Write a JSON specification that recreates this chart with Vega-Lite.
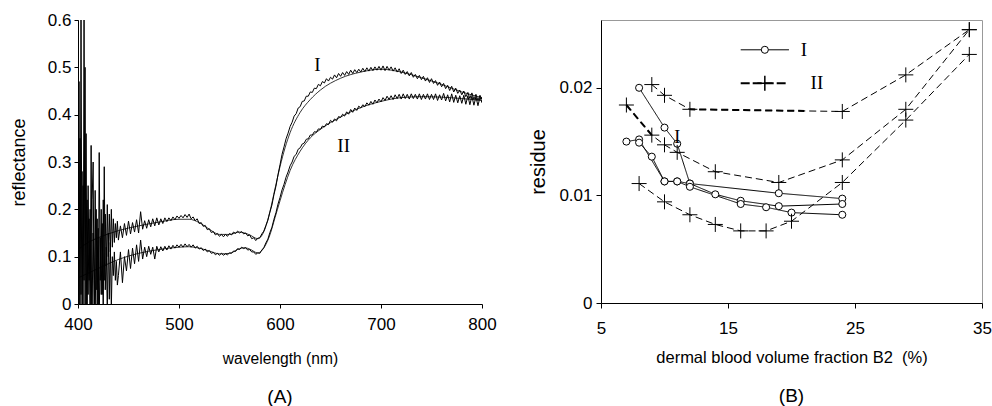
{
 "$schema": "https://vega.github.io/schema/vega-lite/v6.json",
 "background": "white",
 "padding": {"left": 10, "top": 11, "right": 0, "bottom": 0},
 "spacing": 31,
 "config": {
  "view": {"stroke": null},
  "axis": {"domainColor": "black", "tickColor": "black", "labelColor": "black", "titleColor": "black", "labelFont": "Liberation Sans", "titleFont": "Liberation Sans", "labelFontSize": 17, "titleFontSize": 16, "titleFontWeight": "normal", "grid": false, "tickSize": 4, "labelFlush": false, "labelOverlap": false, "labelBound": false, "labelSeparation": 0, "labelPadding": 4, "titlePadding": 10},
  "title": {"font": "Liberation Sans", "fontSize": 19, "fontWeight": "normal", "color": "black"}
 },
 "datasets": {
  "spec": [
   {"w":400,"a":0.60,"b":0.00},{"w":401,"a":-0.05,"b":0.47},{"w":402,"a":0.35,"b":-0.10},{"w":403,"a":0.02,"b":0.60},{"w":404,"a":0.28,"b":-0.05},{"w":405,"a":-0.10,"b":0.25},{"w":406,"a":0.60,"b":0.05},{"w":407,"a":0.00,"b":0.50},{"w":408,"a":0.36,"b":-0.08},{"w":409,"a":-0.05,"b":0.22},
   {"w":410,"a":0.25,"b":0.02},{"w":411,"a":0.05,"b":0.18},{"w":412,"a":0.20,"b":-0.05},{"w":413,"a":-0.08,"b":0.335},{"w":414,"a":0.22,"b":0.00},{"w":415,"a":0.30,"b":0.15},{"w":416,"a":-0.04,"b":0.05},{"w":417,"a":0.24,"b":-0.06},{"w":418,"a":0.03,"b":0.20},{"w":419,"a":0.18,"b":0.00},
   {"w":420,"a":-0.05,"b":0.16},{"w":421,"a":0.32,"b":-0.04},{"w":422,"a":0.05,"b":0.14},{"w":423,"a":0.20,"b":0.02},{"w":424,"a":0.02,"b":0.17},{"w":425,"a":0.22,"b":-0.03},{"w":426,"a":0.05,"b":0.29},{"w":427,"a":0.19,"b":0.03},{"w":428,"a":0.08,"b":0.12},{"w":429,"a":0.21,"b":-0.02},
   {"w":430,"a":0.10,"b":0.15},{"w":431,"a":0.19,"b":0.01},{"w":432,"a":0.11,"b":0.13},{"w":433,"a":0.20,"b":-0.01},{"w":434,"a":0.12,"b":0.10},{"w":435,"a":0.18,"b":0.06},{"w":436,"a":0.13,"b":0.11},{"w":437,"a":0.17,"b":0.05},{"w":438,"a":0.14,"b":0.09},{"w":439,"a":0.175,"b":0.04},
   {"w":440,"a":0.135,"b":0.06},{"w":442,"a":0.165,"b":0.11},{"w":444,"a":0.14,"b":0.045},{"w":446,"a":0.17,"b":0.10},{"w":448,"a":0.145,"b":0.07},{"w":450,"a":0.175,"b":0.115},{"w":452,"a":0.148,"b":0.075},{"w":454,"a":0.172,"b":0.118},{"w":456,"a":0.152,"b":0.085},{"w":458,"a":0.178,"b":0.125},
   {"w":460,"a":0.150,"b":0.09},{"w":462,"a":0.195,"b":0.135},{"w":464,"a":0.158,"b":0.095},{"w":466,"a":0.176,"b":0.12},{"w":468,"a":0.16,"b":0.10},{"w":470,"a":0.178,"b":0.122},{"w":472,"a":0.163,"b":0.105},{"w":474,"a":0.18,"b":0.12},{"w":476,"a":0.165,"b":0.095},{"w":478,"a":0.182,"b":0.122},
   {"w":480,"a":0.167,"b":0.11},{"w":482,"a":0.180,"b":0.121},{"w":484,"a":0.170,"b":0.112},{"w":486,"a":0.182,"b":0.122},{"w":488,"a":0.174,"b":0.114},{"w":490,"a":0.182,"b":0.123},{"w":492,"a":0.176,"b":0.116},{"w":494,"a":0.184,"b":0.124},{"w":496,"a":0.178,"b":0.118},{"w":498,"a":0.186,"b":0.125},
   {"w":500,"a":0.181,"b":0.12},{"w":502,"a":0.187,"b":0.126},{"w":504,"a":0.182,"b":0.12},{"w":506,"a":0.189,"b":0.127},{"w":508,"a":0.183,"b":0.121},{"w":510,"a":0.190,"b":0.126},{"w":512,"a":0.180,"b":0.12},{"w":514,"a":0.184,"b":0.125},{"w":516,"a":0.176,"b":0.118},{"w":518,"a":0.180,"b":0.122},
   {"w":520,"a":0.170,"b":0.116},{"w":522,"a":0.172,"b":0.119},{"w":524,"a":0.164,"b":0.113},{"w":526,"a":0.166,"b":0.116},{"w":528,"a":0.157,"b":0.110},{"w":530,"a":0.159,"b":0.113},{"w":532,"a":0.151,"b":0.107},{"w":534,"a":0.153,"b":0.109},{"w":536,"a":0.146,"b":0.104},{"w":538,"a":0.149,"b":0.107},
   {"w":540,"a":0.143,"b":0.103},{"w":542,"a":0.147,"b":0.107},{"w":544,"a":0.142,"b":0.103},{"w":546,"a":0.147,"b":0.106},{"w":548,"a":0.143,"b":0.104},{"w":550,"a":0.149,"b":0.108},{"w":552,"a":0.146,"b":0.107},{"w":554,"a":0.152,"b":0.112},{"w":556,"a":0.149,"b":0.111},{"w":558,"a":0.154,"b":0.117},
   {"w":560,"a":0.150,"b":0.115},{"w":562,"a":0.153,"b":0.120},{"w":564,"a":0.148,"b":0.117},{"w":566,"a":0.150,"b":0.119},{"w":568,"a":0.144,"b":0.114},{"w":570,"a":0.146,"b":0.115},{"w":572,"a":0.138,"b":0.110},{"w":574,"a":0.140,"b":0.110},{"w":576,"a":0.134,"b":0.105},{"w":578,"a":0.139,"b":0.108},
   {"w":580,"a":0.140,"b":0.107},{"w":582,"a":0.148,"b":0.114},{"w":584,"a":0.154,"b":0.119},{"w":586,"a":0.166,"b":0.129},{"w":588,"a":0.177,"b":0.137},{"w":590,"a":0.194,"b":0.151},{"w":592,"a":0.209,"b":0.162},{"w":594,"a":0.231,"b":0.179},{"w":596,"a":0.249,"b":0.193},{"w":598,"a":0.273,"b":0.211},
   {"w":600,"a":0.294,"b":0.225},{"w":602,"a":0.316,"b":0.241},{"w":604,"a":0.332,"b":0.253},{"w":606,"a":0.349,"b":0.268},{"w":608,"a":0.361,"b":0.279},{"w":610,"a":0.375,"b":0.292},{"w":612,"a":0.384,"b":0.300},{"w":614,"a":0.397,"b":0.312},{"w":616,"a":0.402,"b":0.316},{"w":618,"a":0.414,"b":0.327},
   {"w":620,"a":0.417,"b":0.330},{"w":622,"a":0.428,"b":0.338},{"w":624,"a":0.429,"b":0.340},{"w":626,"a":0.439,"b":0.348},{"w":628,"a":0.439,"b":0.349},{"w":630,"a":0.448,"b":0.357},{"w":632,"a":0.447,"b":0.357},{"w":634,"a":0.456,"b":0.364},{"w":636,"a":0.455,"b":0.363},{"w":638,"a":0.464,"b":0.370},
   {"w":640,"a":0.461,"b":0.369},{"w":642,"a":0.470,"b":0.376},{"w":644,"a":0.467,"b":0.374},{"w":646,"a":0.476,"b":0.381},{"w":648,"a":0.471,"b":0.379},{"w":650,"a":0.479,"b":0.388},{"w":652,"a":0.475,"b":0.384},{"w":654,"a":0.484,"b":0.391},{"w":656,"a":0.478,"b":0.387},{"w":658,"a":0.487,"b":0.396},
   {"w":660,"a":0.481,"b":0.394},{"w":662,"a":0.489,"b":0.401},{"w":664,"a":0.483,"b":0.397},{"w":666,"a":0.491,"b":0.406},{"w":668,"a":0.485,"b":0.401},{"w":670,"a":0.494,"b":0.411},{"w":672,"a":0.487,"b":0.405},{"w":674,"a":0.495,"b":0.414},{"w":676,"a":0.489,"b":0.409},{"w":678,"a":0.496,"b":0.418},
   {"w":680,"a":0.490,"b":0.414},{"w":682,"a":0.498,"b":0.421},{"w":684,"a":0.491,"b":0.417},{"w":686,"a":0.499,"b":0.425},{"w":688,"a":0.492,"b":0.420},{"w":690,"a":0.500,"b":0.428},{"w":692,"a":0.493,"b":0.422},{"w":694,"a":0.501,"b":0.431},{"w":696,"a":0.494,"b":0.425},{"w":698,"a":0.502,"b":0.433},
   {"w":700,"a":0.494,"b":0.427},{"w":702,"a":0.503,"b":0.436},{"w":704,"a":0.493,"b":0.430},{"w":706,"a":0.502,"b":0.439},{"w":708,"a":0.494,"b":0.432},{"w":710,"a":0.501,"b":0.440},{"w":712,"a":0.492,"b":0.432},{"w":714,"a":0.499,"b":0.442},{"w":716,"a":0.490,"b":0.434},{"w":718,"a":0.497,"b":0.443},
   {"w":720,"a":0.487,"b":0.433},{"w":722,"a":0.494,"b":0.444},{"w":724,"a":0.485,"b":0.434},{"w":726,"a":0.491,"b":0.443},{"w":728,"a":0.482,"b":0.433},{"w":730,"a":0.489,"b":0.444},{"w":732,"a":0.479,"b":0.434},{"w":734,"a":0.485,"b":0.443},{"w":736,"a":0.476,"b":0.433},{"w":738,"a":0.483,"b":0.444},
   {"w":740,"a":0.474,"b":0.432},{"w":742,"a":0.481,"b":0.443},{"w":744,"a":0.471,"b":0.433},{"w":746,"a":0.478,"b":0.444},{"w":748,"a":0.468,"b":0.432},{"w":750,"a":0.476,"b":0.443},{"w":752,"a":0.466,"b":0.432},{"w":754,"a":0.472,"b":0.444},{"w":756,"a":0.462,"b":0.430},{"w":758,"a":0.469,"b":0.442},
   {"w":760,"a":0.459,"b":0.431},{"w":762,"a":0.466,"b":0.445},{"w":764,"a":0.455,"b":0.429},{"w":766,"a":0.462,"b":0.442},{"w":768,"a":0.451,"b":0.427},{"w":770,"a":0.460,"b":0.444},{"w":772,"a":0.448,"b":0.426},{"w":774,"a":0.456,"b":0.441},{"w":776,"a":0.445,"b":0.425},{"w":778,"a":0.452,"b":0.440},
   {"w":780,"a":0.442,"b":0.424},{"w":782,"a":0.450,"b":0.441},{"w":784,"a":0.438,"b":0.422},{"w":786,"a":0.447,"b":0.440},{"w":788,"a":0.434,"b":0.421},{"w":790,"a":0.446,"b":0.439},{"w":792,"a":0.432,"b":0.420},{"w":794,"a":0.443,"b":0.438},{"w":796,"a":0.430,"b":0.419},{"w":798,"a":0.441,"b":0.437},
   {"w":800,"a":0.432,"b":0.425}
  ],
  "fit": [
   {"w":400,"a":0.115,"b":0.055},{"w":410,"a":0.13,"b":0.065},{"w":420,"a":0.14,"b":0.075},{"w":430,"a":0.148,"b":0.085},{"w":440,"a":0.155,"b":0.094},{"w":460,"a":0.165,"b":0.107},{"w":480,"a":0.173,"b":0.115},{"w":500,"a":0.179,"b":0.12},{"w":510,"a":0.179,"b":0.121},{"w":520,"a":0.172,"b":0.118},{"w":530,"a":0.158,"b":0.112},{"w":540,"a":0.147,"b":0.106},{"w":550,"a":0.147,"b":0.107},{"w":560,"a":0.152,"b":0.117},{"w":565,"a":0.150,"b":0.119},{"w":570,"a":0.146,"b":0.116},{"w":578,"a":0.138,"b":0.108},{"w":585,"a":0.158,"b":0.122},{"w":590,"a":0.195,"b":0.146},{"w":595,"a":0.243,"b":0.182},{"w":600,"a":0.29,"b":0.218},{"w":605,"a":0.33,"b":0.252},{"w":610,"a":0.362,"b":0.282},{"w":620,"a":0.405,"b":0.323},{"w":630,"a":0.432,"b":0.351},{"w":640,"a":0.452,"b":0.369},{"w":660,"a":0.477,"b":0.395},{"w":680,"a":0.49,"b":0.415},{"w":700,"a":0.496,"b":0.428},{"w":720,"a":0.49,"b":0.436},{"w":740,"a":0.478,"b":0.438},{"w":760,"a":0.464,"b":0.437},{"w":780,"a":0.448,"b":0.434},{"w":800,"a":0.436,"b":0.43}
  ],
  "res": [
   {"c":"C1","t":"I","x":8,"y":0.0200},{"c":"C1","t":"I","x":10,"y":0.0163},{"c":"C1","t":"I","x":11,"y":0.0148},{"c":"C1","t":"I","x":12,"y":0.0111},{"c":"C1","t":"I","x":19,"y":0.0102},{"c":"C1","t":"I","x":24,"y":0.0097},
   {"c":"C2","t":"I","x":7,"y":0.0150},{"c":"C2","t":"I","x":8,"y":0.0152},{"c":"C2","t":"I","x":10,"y":0.0113},{"c":"C2","t":"I","x":11,"y":0.0113},{"c":"C2","t":"I","x":12,"y":0.0111},{"c":"C2","t":"I","x":14,"y":0.0101},{"c":"C2","t":"I","x":16,"y":0.0095},{"c":"C2","t":"I","x":19,"y":0.0090},{"c":"C2","t":"I","x":24,"y":0.0092},
   {"c":"C3","t":"I","x":8,"y":0.0149},{"c":"C3","t":"I","x":9,"y":0.0136},{"c":"C3","t":"I","x":10,"y":0.0113},{"c":"C3","t":"I","x":11,"y":0.0113},{"c":"C3","t":"I","x":12,"y":0.0108},{"c":"C3","t":"I","x":16,"y":0.0092},{"c":"C3","t":"I","x":18,"y":0.0089},{"c":"C3","t":"I","x":20,"y":0.0084},{"c":"C3","t":"I","x":24,"y":0.0082},
   {"c":"D1","t":"II","x":9,"y":0.0203},{"c":"D1","t":"II","x":10,"y":0.0193},{"c":"D1","t":"II","x":12,"y":0.0180},{"c":"D1","t":"II","x":24,"y":0.0178},{"c":"D1","t":"II","x":29,"y":0.0212},{"c":"D1","t":"II","x":34,"y":0.0254},
   {"c":"D2","t":"II","x":7,"y":0.0184},{"c":"D2","t":"II","x":9,"y":0.0156},{"c":"D2","t":"II","x":10,"y":0.0147},{"c":"D2","t":"II","x":11,"y":0.0140},{"c":"D2","t":"II","x":14,"y":0.0122},{"c":"D2","t":"II","x":19,"y":0.0112},{"c":"D2","t":"II","x":24,"y":0.0133},{"c":"D2","t":"II","x":29,"y":0.0180},{"c":"D2","t":"II","x":34,"y":0.0254},
   {"c":"D3","t":"II","x":8,"y":0.0111},{"c":"D3","t":"II","x":10,"y":0.0094},{"c":"D3","t":"II","x":12,"y":0.0082},{"c":"D3","t":"II","x":14,"y":0.0073},{"c":"D3","t":"II","x":16,"y":0.0067},{"c":"D3","t":"II","x":18,"y":0.0067},{"c":"D3","t":"II","x":20,"y":0.0076},{"c":"D3","t":"II","x":24,"y":0.0112},{"c":"D3","t":"II","x":29,"y":0.0170},{"c":"D3","t":"II","x":34,"y":0.0231}
  ],
  "bold": [
   {"c":"B1","x":12,"y":0.0180},{"c":"B1","x":21,"y":0.01785},
   {"c":"B2","x":7,"y":0.0184},{"c":"B2","x":9,"y":0.0156}
  ],
  "legline": [
   {"t":"I","x":16.0,"y":0.02353},{"t":"I","x":19.8,"y":0.02353},
   {"t":"II","x":16.0,"y":0.02043},{"t":"II","x":19.54,"y":0.02043}
  ],
  "legsym": [
   {"t":"I","x":17.9,"y":0.02353,"lx":20.72},
   {"t":"II","x":17.9,"y":0.02043,"lx":21.5}
  ]
 },
 "hconcat": [
  {
   "width": 404, "height": 284,
   "title": {"text": "(A)", "orient": "bottom", "anchor": "middle", "frame": "group", "offset": 21},
   "layer": [
    {
     "data": {"name": "spec"},
     "transform": [{"fold": ["a", "b"], "as": ["s", "r"]}],
     "mark": {"type": "line", "clip": true, "stroke": "black", "strokeWidth": 1},
     "encoding": {
      "x": {"field": "w", "type": "quantitative", "scale": {"domain": [400, 800], "nice": false}, "axis": {"values": [400, 500, 600, 700, 800], "title": "wavelength (nm)", "titleFontSize": 15.6, "labelPadding": 8, "titlePadding": 19}},
      "y": {"field": "r", "type": "quantitative", "scale": {"domain": [0, 0.6], "nice": false}, "axis": {"values": [0, 0.1, 0.2, 0.3, 0.4, 0.5, 0.6], "format": ".1~f", "title": "reflectance", "titleFontSize": 18, "labelPadding": 3, "titlePadding": 19}},
      "detail": {"field": "s"}
     }
    },
    {
     "data": {"name": "fit"},
     "transform": [{"fold": ["a", "b"], "as": ["s", "r"]}],
     "mark": {"type": "line", "clip": true, "stroke": "black", "strokeWidth": 0.8, "interpolate": "monotone"},
     "encoding": {
      "x": {"field": "w", "type": "quantitative"},
      "y": {"field": "r", "type": "quantitative"},
      "detail": {"field": "s"}
     }
    },
    {
     "data": {"values": [{"w": 637, "r": 0.505, "t": "I"}, {"w": 663, "r": 0.333, "t": "II"}]},
     "mark": {"type": "text", "font": "Liberation Serif", "fontSize": 19, "color": "black", "align": "center", "baseline": "middle"},
     "encoding": {
      "x": {"field": "w", "type": "quantitative"},
      "y": {"field": "r", "type": "quantitative"},
      "text": {"field": "t"}
     }
    }
   ]
  },
  {
   "width": 381, "height": 283,
   "view": {"stroke": "#999999", "strokeWidth": 1},
   "title": {"text": "(B)", "orient": "bottom", "anchor": "middle", "frame": "group", "offset": 21},
   "layer": [
    {
     "data": {"name": "res"},
     "mark": {"type": "line", "stroke": "black", "strokeWidth": 1},
     "encoding": {
      "x": {"field": "x", "type": "quantitative", "scale": {"domain": [5, 35], "nice": false}, "axis": {"values": [5, 15, 25, 35], "format": "d", "tickCount": 4, "title": "dermal blood volume fraction B2\u00a0 (%)", "titleFontSize": 16.5, "labelPadding": 12, "titlePadding": 13, "tickSize": 5, "zindex": 1}},
      "y": {"field": "y", "type": "quantitative", "scale": {"domain": [0, 0.0263], "nice": false}, "axis": {"values": [0, 0.01, 0.02], "format": ".2~f", "title": "residue", "titleFontSize": 20, "labelPadding": 4, "titlePadding": 10, "tickSize": 5, "zindex": 1}},
      "detail": {"field": "c"},
      "strokeDash": {"field": "t", "type": "nominal", "scale": {"domain": ["I", "II"], "range": [[1, 0], [7, 4]]}, "legend": null}
     }
    },
    {
     "data": {"name": "bold"},
     "transform": [{"filter": "datum.c === 'B1'"}],
     "mark": {"type": "line", "stroke": "black", "strokeWidth": 2, "strokeDash": [7, 4], "strokeDashOffset": 1.7},
     "encoding": {
      "x": {"field": "x", "type": "quantitative"},
      "y": {"field": "y", "type": "quantitative"}
     }
    },
    {
     "data": {"name": "bold"},
     "transform": [{"filter": "datum.c === 'B2'"}],
     "mark": {"type": "line", "stroke": "black", "strokeWidth": 2, "strokeDash": [7, 4]},
     "encoding": {
      "x": {"field": "x", "type": "quantitative"},
      "y": {"field": "y", "type": "quantitative"}
     }
    },
    {
     "data": {"name": "res"},
     "transform": [{"filter": "datum.t === 'I'"}],
     "mark": {"type": "point", "shape": "circle", "filled": true, "fill": "white", "stroke": "black", "strokeWidth": 1, "size": 50, "opacity": 1},
     "encoding": {
      "x": {"field": "x", "type": "quantitative"},
      "y": {"field": "y", "type": "quantitative"}
     }
    },
    {
     "data": {"name": "res"},
     "transform": [{"filter": "datum.t === 'II'"}],
     "mark": {"type": "point", "shape": "M-1,0H1M0,-1V1", "filled": false, "stroke": "black", "strokeWidth": 1, "size": 225, "opacity": 1},
     "encoding": {
      "x": {"field": "x", "type": "quantitative"},
      "y": {"field": "y", "type": "quantitative"}
     }
    },
    {
     "data": {"values": [{"x": 11, "y": 0.0153, "t": "I"}]},
     "mark": {"type": "text", "font": "Liberation Serif", "fontSize": 18, "color": "black", "align": "center", "baseline": "middle"},
     "encoding": {
      "x": {"field": "x", "type": "quantitative"},
      "y": {"field": "y", "type": "quantitative"},
      "text": {"field": "t"}
     }
    },
    {
     "data": {"name": "legline"},
     "transform": [{"filter": "datum.t === 'I'"}],
     "mark": {"type": "line", "stroke": "black", "strokeWidth": 1},
     "encoding": {
      "x": {"field": "x", "type": "quantitative"},
      "y": {"field": "y", "type": "quantitative"}
     }
    },
    {
     "data": {"name": "legline"},
     "transform": [{"filter": "datum.t === 'II'"}],
     "mark": {"type": "line", "stroke": "black", "strokeWidth": 2, "strokeDash": [9, 3]},
     "encoding": {
      "x": {"field": "x", "type": "quantitative"},
      "y": {"field": "y", "type": "quantitative"}
     }
    },
    {
     "data": {"name": "legsym"},
     "transform": [{"filter": "datum.t === 'I'"}],
     "mark": {"type": "point", "shape": "circle", "filled": true, "fill": "white", "stroke": "black", "strokeWidth": 1, "size": 50, "opacity": 1},
     "encoding": {
      "x": {"field": "x", "type": "quantitative"},
      "y": {"field": "y", "type": "quantitative"}
     }
    },
    {
     "data": {"name": "legsym"},
     "transform": [{"filter": "datum.t === 'II'"}],
     "mark": {"type": "point", "shape": "M-1,0H1M0,-1V1", "filled": false, "stroke": "black", "strokeWidth": 1.5, "size": 225, "opacity": 1},
     "encoding": {
      "x": {"field": "x", "type": "quantitative"},
      "y": {"field": "y", "type": "quantitative"}
     }
    },
    {
     "data": {"name": "legsym"},
     "mark": {"type": "text", "font": "Liberation Serif", "fontSize": 19, "color": "black", "align": "left", "baseline": "middle"},
     "encoding": {
      "x": {"field": "lx", "type": "quantitative"},
      "y": {"field": "y", "type": "quantitative"},
      "text": {"field": "t"}
     }
    }
   ]
  }
 ]
}
